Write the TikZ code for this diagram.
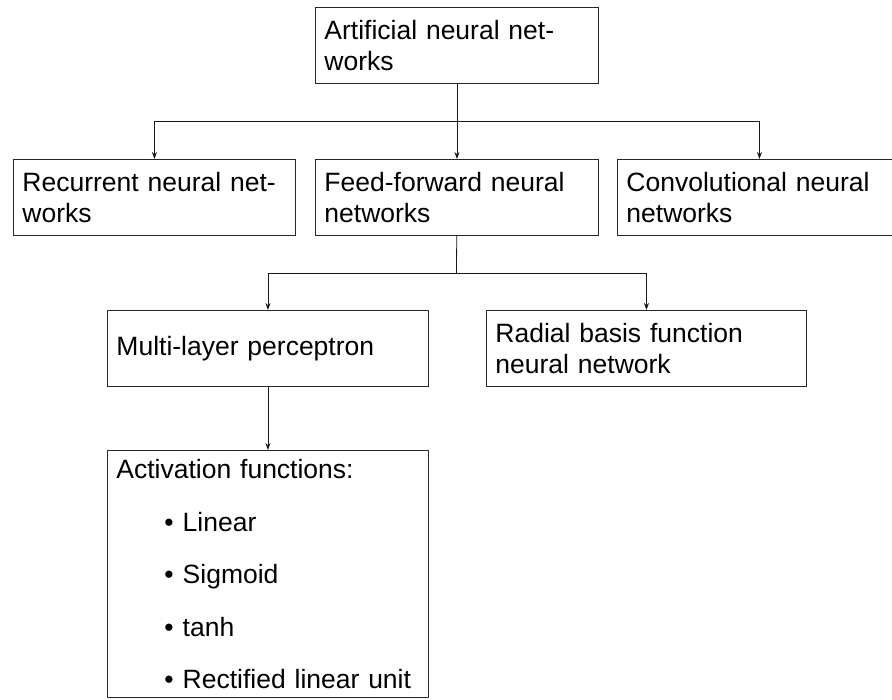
\documentclass[tikz,border=0pt]{standalone}
\usepackage{fontspec}
\setmainfont{Liberation Sans}
\usetikzlibrary{arrows.meta}

\tikzset{
  box/.style={draw=black!85, line width=0.9pt, anchor=north west, align=left,
    inner xsep=9pt, text width=#1, minimum height=76pt,
    font=\fontsize{26.5}{31.5}\selectfont},
  link/.style={draw=black!90, line width=0.8pt}
}

\begin{document}
\begin{tikzpicture}[x=1pt, y=-1pt, >={Stealth[length=7pt,width=5pt]}]
  \clip (0,0) rectangle (892,700);
  % first row
  \node[box=265pt] (ann) at (315,7) {Artificial neural net-\\works};
  % second row
  \node[box=264pt] (rnn) at (13,159) {Recurrent neural net-\\works};
  \node[box=265pt] (ffnn) at (315,159) {Feed-forward neural\\networks};
  \node[box=266pt] (cnn) at (617,159) {Convolutional neural\\networks};
  % third row
  \node[box=303pt] (mlp) at (107,310) {Multi-layer perceptron};
  \node[box=302pt] (rbf) at (486,310) {Radial basis function\\neural network};
  % activation list
  \node[box=303pt, minimum height=0pt, inner ysep=9pt] (act) at (107,450)
    {Activation functions:\\[21pt]
     \hspace*{48pt}\textbullet\hspace{9pt}Linear\\[21pt]
     \hspace*{48pt}\textbullet\hspace{9pt}Sigmoid\\[21pt]
     \hspace*{48pt}\textbullet\hspace{9pt}tanh\\[21pt]
     \hspace*{48pt}\textbullet\hspace{9pt}Rectified linear unit};

  \coordinate (fork1) at (456.5,121);
  \coordinate (fork2) at (456.5,273);

  \draw[link,->] (ann) -- (ffnn);
  \draw[link,->] (fork1) -| (rnn);
  \draw[link,->] (fork1) -| (cnn);
  \draw[link] (ffnn) -- (fork2);
  \draw[link,->] (fork2) -| (mlp);
  \draw[link,->] (fork2) -| (rbf);
  \draw[link,->] (mlp) -- (act);
\end{tikzpicture}
\end{document}
